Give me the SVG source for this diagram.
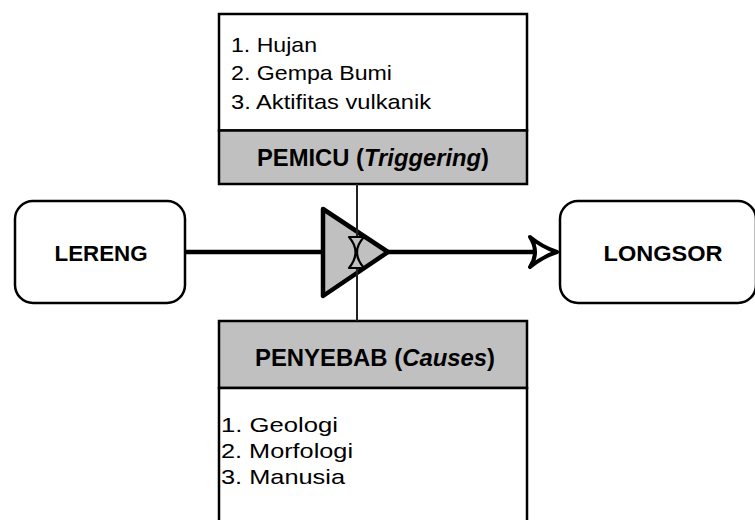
<svg xmlns="http://www.w3.org/2000/svg" width="755" height="520" viewBox="0 0 755 520">
<style>
text{font-family:"Liberation Sans",Arial,sans-serif;fill:#000}
.lbl{font-size:22.5px;font-weight:bold;text-anchor:middle}
.hdr{font-size:24px;font-weight:bold;text-anchor:middle}
.item{font-size:21px}
.item2{font-size:21px}
.rbox{fill:#fff;stroke:#000;stroke-width:2.5}
.box{fill:#fff;stroke:#000;stroke-width:2.5}
.grey{fill:#c0c0c0;stroke:#000;stroke-width:2.5}
.wire{stroke:#000;stroke-width:4.5;fill:none}
</style>
<rect width="755" height="520" fill="#fff"/>
<g id="connectors">
<line class="wire" x1="185" y1="252" x2="324" y2="252"/>
<line class="wire" x1="388" y1="252" x2="536" y2="252"/>
<path d="M530,237 Q542,247 557,252 Q542,257 530,267 Q540,252 530,237 Z" fill="#fff" stroke="#000" stroke-width="4" stroke-linejoin="round"/>
</g>
<g id="pemicu">
<rect class="box" x="219" y="14" width="308" height="116.5"/>
<rect class="grey" x="219" y="130.5" width="308" height="53.5"/>
<text class="item" x="231" y="52" textLength="86" lengthAdjust="spacingAndGlyphs">1. Hujan</text>
<text class="item" x="231" y="80" textLength="161" lengthAdjust="spacingAndGlyphs">2. Gempa Bumi</text>
<text class="item" x="231" y="109" textLength="200" lengthAdjust="spacingAndGlyphs">3. Aktifitas vulkanik</text>
<text class="hdr" x="373" y="166" textLength="232" lengthAdjust="spacingAndGlyphs">PEMICU (<tspan font-style="italic">Triggering</tspan>)</text>
</g>
<g id="penyebab">
<rect class="grey" x="219" y="321" width="308" height="67"/>
<rect class="box" x="219" y="388" width="308" height="150"/>
<text class="hdr" x="375" y="366" textLength="240" lengthAdjust="spacingAndGlyphs">PENYEBAB (<tspan font-style="italic">Causes</tspan>)</text>
<text class="item2" x="221" y="432" textLength="117" lengthAdjust="spacingAndGlyphs">1. Geologi</text>
<text class="item2" x="221" y="458" textLength="132" lengthAdjust="spacingAndGlyphs">2. Morfologi</text>
<text class="item2" x="221" y="484" textLength="124" lengthAdjust="spacingAndGlyphs">3. Manusia</text>
</g>
<g id="lereng">
<rect class="rbox" x="15" y="201" width="170" height="102" rx="18" ry="18"/>
<text class="lbl" x="101" y="261" textLength="93" lengthAdjust="spacingAndGlyphs">LERENG</text>
</g>
<g id="longsor">
<rect class="rbox" x="560" y="201" width="196" height="102" rx="18" ry="18"/>
<text class="lbl" x="663" y="261" textLength="119" lengthAdjust="spacingAndGlyphs">LONGSOR</text>
</g>
<g id="proses">
<path d="M323,209 L388,252 L323,296 Z" fill="#c0c0c0" stroke="#000" stroke-width="4.5" stroke-linejoin="round"/>
<line x1="357" y1="184" x2="357" y2="321" stroke="#222" stroke-width="2"/>
<path d="M349,237 L364,237 Q350,252 364,268 L349,268 Q362,252 349,237 Z" fill="#c0c0c0" stroke="#000" stroke-width="2.2" stroke-linejoin="round"/>
</g>
</svg>
